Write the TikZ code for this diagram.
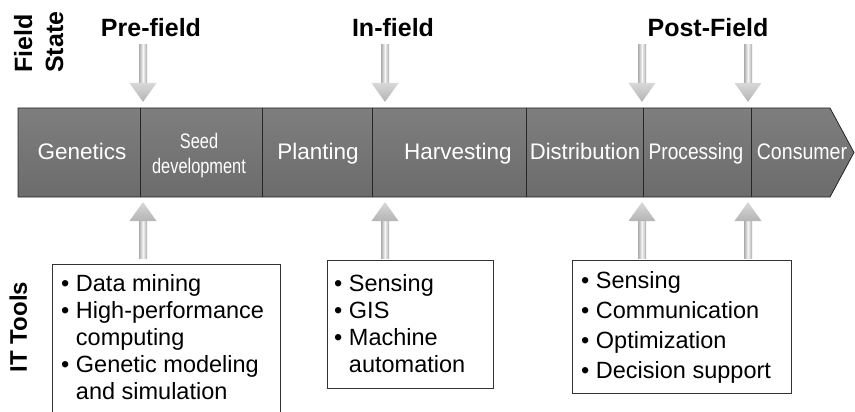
\documentclass[tikz,border=0pt]{standalone}
\usepackage{fontspec}
\setmainfont{Liberation Sans}
\usepackage{graphicx}
\definecolor{bandtop}{HTML}{7E7E7E}
\definecolor{bandmid}{HTML}{ABABAB}
\definecolor{bandbot}{HTML}{6C6C6C}
\definecolor{shaftedge}{HTML}{ABABAB}
\definecolor{shaftmid}{HTML}{F6F6F6}
\definecolor{headtop}{HTML}{D8D8D8}
\definecolor{headbot}{HTML}{B4B4B4}
\newcommand\bitem{\textbullet\ }
\newcommand\bcont{\phantom{\textbullet\ }}
\begin{document}
\begin{tikzpicture}[x=1pt,y=-1pt,
  bandlbl/.style={text=white,font=\fontsize{22.5}{26}\selectfont,inner sep=0,anchor=base},
  seedlbl/.style={text=white,font=\fontsize{21}{25}\selectfont,inner sep=0,anchor=base},
  hdr/.style={font=\bfseries\fontsize{25}{30}\selectfont,inner sep=0,anchor=base},
  sidelbl/.style={font=\bfseries\fontsize{25}{30}\selectfont,inner sep=0,rotate=90,anchor=base west},
  itlbl/.style={font=\bfseries\fontsize{24}{28}\selectfont,inner sep=0,rotate=90,anchor=base},
  toolbox/.style={draw=black!80,line width=0.8pt,anchor=north west,inner sep=0},
  tooltext/.style={inner sep=0,anchor=north west,align=left},
  divider/.style={draw=black!85,line width=0.7pt},
  shaft/.style={left color=shaftedge,right color=shaftedge,middle color=shaftmid,draw=none},
  headfill/.style={top color=headtop,bottom color=headbot,draw=none},
  dnarrow/.pic={\path[shaft] (-4,0) rectangle (4,38);
                \path[headfill] (-13.5,38) -- (13.5,38) -- (0,57) -- cycle;},
  uparrow/.pic={\path[shaft] (-4,0) rectangle (4,-37);
                \path[headfill] (-13.5,-37) -- (13.5,-37) -- (0,-56) -- cycle;}
]
\useasboundingbox (0,0) rectangle (855,412);

% side labels
\node[sidelbl] (field) at (32,73) {Field};
\node[sidelbl] (state) at (63,73) {State};
\node[itlbl] (ittools) at (27,327) {IT Tools};

% headers
\node[hdr] (pre) at (151,37) {Pre-field};
\node[hdr] (in) at (393,37) {In-field};
\node[hdr] (post) at (708,37) {Post-Field};

% band
\path[top color=bandtop,middle color=bandmid,bottom color=bandbot,draw=black!85,line width=0.8pt]
  (18,108) -- (830,108) -- (854,152.5) -- (830,197) -- (18,197) -- cycle;
\foreach \x in {140,262,372,526,643,751}
  \draw[divider] (\x,108) -- (\x,197);

\node[bandlbl] (gen) at (82,160) {Genetics};
\node[seedlbl] (seed1) at (199,148) {\scalebox{0.78}[1]{Seed}};
\node[seedlbl] (seed2) at (199,173) {\scalebox{0.78}[1]{development}};
\node[bandlbl] (plant) at (318,160) {Planting};
\node[bandlbl] (harv) at (458,160) {Harvesting};
\node[bandlbl] (dist) at (585,160) {\scalebox{0.98}[1]{Distribution}};
\node[bandlbl] (proc) at (696,160) {\scalebox{0.85}[1]{Processing}};
\node[bandlbl] (cons) at (802,160) {\scalebox{0.87}[1]{Consumer}};

% down arrows
\coordinate (d1) at (143,45);
\coordinate (d2) at (385,45);
\coordinate (d3) at (642,45);
\coordinate (d4) at (748,45);
\foreach \c in {d1,d2,d3,d4} \pic at (\c) {dnarrow};

% up arrows
\coordinate (u1) at (143,258);
\coordinate (u2) at (385,258);
\coordinate (u3) at (642,258);
\coordinate (u4) at (748,258);
\foreach \c in {u1,u2,u3,u4} \pic at (\c) {uparrow};

% tool boxes
\node[toolbox,minimum width=228,minimum height=160] (box1) at (52,264) {};
\node[toolbox,minimum width=166,minimum height=128] (box2) at (327,260) {};
\node[toolbox,minimum width=219,minimum height=133] (box3) at (572,260) {};

\node[tooltext,font=\fontsize{23.5}{27}\selectfont] (t1) at (61,274)
  {\bitem Data mining\\ \bitem High-performance\\ \bcont computing\\ \bitem Genetic modeling\\ \bcont and simulation};
\node[tooltext,font=\fontsize{23.5}{27}\selectfont] (t2) at (334,274)
  {\bitem Sensing\\ \bitem GIS\\ \bitem Machine\\ \bcont automation};
\node[tooltext,font=\fontsize{23.5}{30}\selectfont] (t3) at (581,271.5)
  {\bitem Sensing\\ \bitem Communication\\ \bitem Optimization\\ \bitem Decision support};
\end{tikzpicture}
\end{document}
